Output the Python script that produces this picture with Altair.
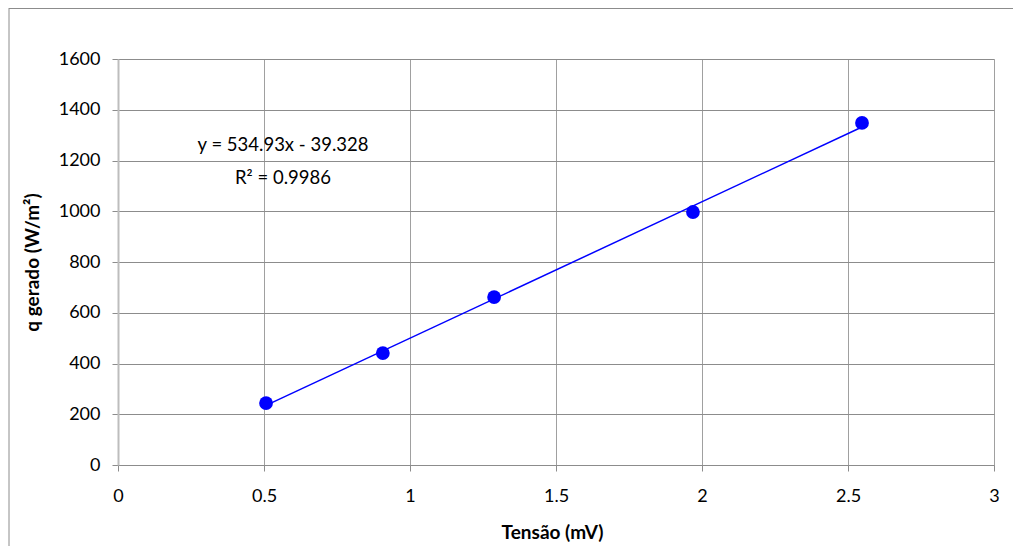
import altair as alt
import pandas as pd

tensao = [0.507, 0.907, 1.288, 1.969, 2.548]
q_gerado = [244, 441, 662, 997, 1348]
eq_lines = ["y = 534.93x - 39.328", "R² = 0.9986"]

df = pd.DataFrame({"x": tensao, "y": q_gerado})
FONT = "Lato"

base = alt.Chart(df)

xenc = alt.X("x:Q", scale=alt.Scale(domain=[0, 3], nice=False),
             axis=alt.Axis(values=[0, 0.5, 1, 1.5, 2, 2.5, 3], title="Tensão (mV)",
                           format="~g", grid=True, gridColor="#a0a0a0", labelFlush=False,
                           domainColor="#8c8c8c", tickColor="#8c8c8c", tickSize=6,
                           labelPadding=16, labelFontSize=18, labelColor="#000",
                           titleFontSize=19, titleFontWeight="bold", titleColor="#000",
                           titleY=67, titleBaseline="middle", titleX=434))
yenc = alt.Y("y:Q", scale=alt.Scale(domain=[0, 1600], nice=False),
             axis=alt.Axis(values=list(range(0, 1601, 200)), title="q gerado (W/m²)",
                           format="d", grid=True, gridColor="#8c8c8c",
                           domainColor="#bdbdbd", domainWidth=2, tickColor="#8c8c8c", tickSize=6,
                           labelPadding=12, labelFontSize=18, labelColor="#000",
                           titleFontSize=19, titleFontWeight="bold", titleColor="#000",
                           titleX=-86, titleBaseline="middle", titleAngle=-90))

trend = base.transform_regression("x", "y").mark_line(color="#0000ff", strokeWidth=1.5).encode(
    x=xenc, y=yenc)
points = base.mark_circle(color="#0000ff", opacity=1, size=190).encode(x="x:Q", y="y:Q")

ann_df = pd.DataFrame({"t": eq_lines, "py": [86, 119]})
ann = alt.Chart(ann_df).mark_text(font=FONT, fontSize=18.5, color="#000", align="center",
                                  baseline="middle").encode(
    text="t:N", x=alt.value(165), y=alt.Y("py:Q", scale=None))

edge = alt.Data(values=[{}])
border_left = alt.Chart(edge).mark_rule(color="#8c8c8c", strokeWidth=1).encode(
    x=alt.value(-109), y=alt.value(-51), y2=alt.value(600))
border_top = alt.Chart(edge).mark_rule(color="#8c8c8c", strokeWidth=1).encode(
    x=alt.value(-109), x2=alt.value(1000), y=alt.value(-50.5))

chart = alt.layer(border_left, border_top, trend, points, ann).properties(
    width=876, height=406,
    autosize=alt.AutoSizeParams(type="none"),
    padding={"left": 110, "top": 51, "right": 19, "bottom": 81},
).configure_view(stroke=None).configure(font=FONT).configure_axis(labelFont=FONT, titleFont=FONT)

chart.save("out.html", embed_options={"renderer": "svg", "actions": False})
